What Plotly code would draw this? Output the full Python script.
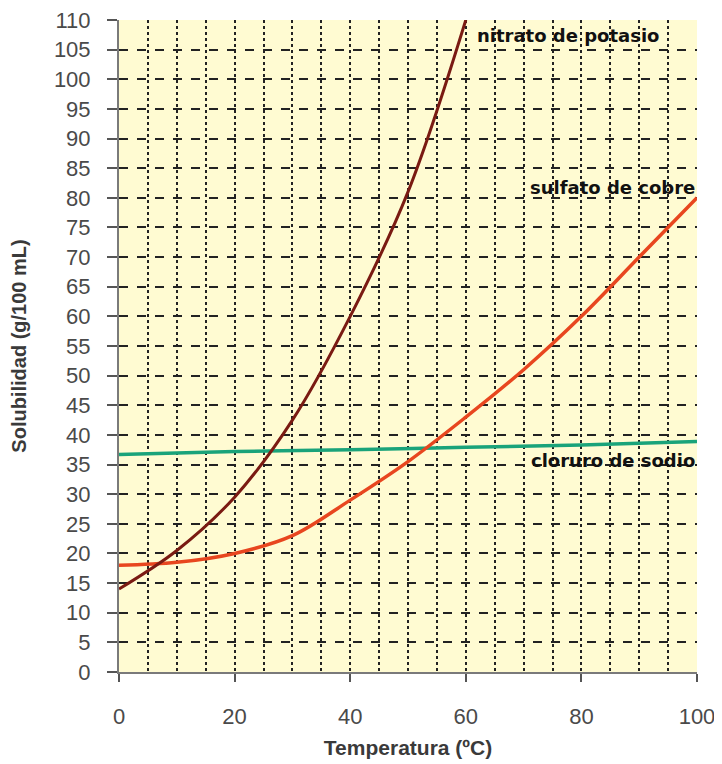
import plotly.graph_objects as go

temperatura = [0, 10, 20, 30, 40, 50, 60]
nitrato_potasio = [14, 20.5, 29.5, 42.5, 60, 81, 110]

temp_sulfato = [0, 10, 20, 30, 40, 50, 60, 70, 80, 90, 100]
sulfato_cobre = [18, 18.5, 20, 23, 29, 35.5, 43, 51, 60, 70, 80]

temp_cloruro = [0, 20, 40, 60, 80, 100]
cloruro_sodio = [36.7, 37.2, 37.5, 37.9, 38.3, 38.9]

fig = go.Figure()
fig.add_trace(go.Scatter(x=temp_cloruro, y=cloruro_sodio, mode="lines",
                         line=dict(color="#1aa37a", width=3.5, shape="spline"),
                         name="cloruro de sodio", cliponaxis=False))
fig.add_trace(go.Scatter(x=temp_sulfato, y=sulfato_cobre, mode="lines",
                         line=dict(color="#e8461f", width=3.5, shape="spline"),
                         name="sulfato de cobre", cliponaxis=False))
fig.add_trace(go.Scatter(x=temperatura, y=nitrato_potasio, mode="lines",
                         line=dict(color="#7a1a12", width=3, shape="spline"),
                         name="nitrato de potasio", cliponaxis=False))

ann_font = dict(family="DejaVu Sans", size=18, color="#111111")
fig.add_annotation(x=61.6, y=107.4, text="<b>nitrato de potasio</b>", showarrow=False,
                   xanchor="left", yanchor="middle", font=ann_font)
fig.add_annotation(x=100, y=81.8, text="<b>sulfato de cobre</b>", showarrow=False,
                   xanchor="right", yanchor="middle", font=ann_font)
fig.add_annotation(x=100, y=35.6, text="<b>cloruro de sodio</b>", showarrow=False,
                   xanchor="right", yanchor="middle", font=ann_font)

tick_font = dict(family="Liberation Sans, Arial", size=22, color="#4a4a4a")
fig.update_layout(
    width=714, height=756,
    margin=dict(l=111, r=25, t=12, b=92),
    paper_bgcolor="white",
    plot_bgcolor="#fffbd2",
    showlegend=False,
    xaxis=dict(range=[0, 100], dtick=20, tick0=0, automargin=False,
               ticklabeloverflow="allow",
               showgrid=True, gridcolor="#222222", griddash="dot", gridwidth=2,
               minor=dict(dtick=5, showgrid=True, gridcolor="#222222", griddash="dot", gridwidth=2),
               showline=True, linecolor="#7a7a7a", linewidth=2,
               ticks="outside", ticklen=8, tickcolor="#555555", tickwidth=2,
               ticklabelstandoff=16,
               tickfont=tick_font, zeroline=False,
               title=dict(text="<b>Temperatura (ºC)</b>", standoff=12,
                          font=dict(family="Liberation Sans, Arial", size=21, color="#3a3a3a"))),
    yaxis=dict(range=[0, 110], dtick=5, tick0=0, automargin=False,
               ticklabeloverflow="allow",
               showgrid=True, gridcolor="#222222", griddash="dash", gridwidth=2,
               showline=True, linecolor="#7a7a7a", linewidth=2,
               ticks="outside", ticklen=10, tickcolor="#555555", tickwidth=2,
               ticklabelstandoff=12,
               tickfont=tick_font, zeroline=False,
               title=dict(text="<b>Solubilidad (g/100 mL)</b>", standoff=22,
                          font=dict(family="Liberation Sans, Arial", size=20, color="#3a3a3a"))),
)

fig.write_html("out.html")
